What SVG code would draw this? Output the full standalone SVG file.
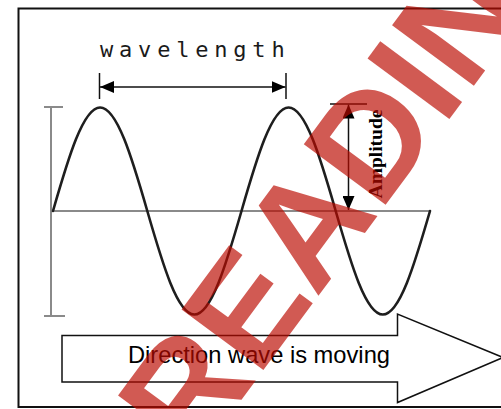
<svg xmlns="http://www.w3.org/2000/svg" width="501" height="409" viewBox="0 0 501 409">
  <style>
    .gray { stroke: #8a8a8a; stroke-width: 2; fill: none; }
    .blk { stroke: #111; stroke-width: 1.5; fill: none; }
    .wave { stroke: #1e1e1e; stroke-width: 2.6; fill: none; stroke-linecap: round; }
    .mono { font-family: "DejaVu Sans Mono", "Liberation Mono", monospace; font-size: 22px; fill: #1a1a1a; letter-spacing: 5.8px; }
    .sans { font-family: "Liberation Sans", Arial, sans-serif; font-size: 23.7px; fill: #000; }
    .serif { font-family: "Liberation Serif", "Times New Roman", serif; font-size: 19.5px; font-weight: bold; fill: #000; }
    .wm { font-family: "Liberation Sans", Arial, sans-serif; font-size: 148px; font-weight: bold; fill: #BB0A00; opacity: 0.67; }
  </style>
  <defs>
    <marker id="ah" viewBox="0 0 14 12" refX="14" refY="6" markerWidth="14" markerHeight="12" markerUnits="userSpaceOnUse" orient="auto-start-reverse">
      <path d="M0,0 L14,6 L0,12 Z" fill="#000"/>
    </marker>
  </defs>
  <rect width="501" height="409" fill="#fff"/>
  <rect id="frame" x="18.5" y="8.5" width="500" height="398.5" fill="none" stroke="#111" stroke-width="2"/>

  <g id="axes">
    <line class="gray" x1="53" y1="211" x2="430" y2="211"/>
    <line class="gray" x1="51" y1="107" x2="51" y2="316"/>
    <line class="gray" x1="44" y1="107" x2="63" y2="107"/>
    <line class="gray" x1="44" y1="316" x2="65" y2="316"/>
  </g>

  <g id="wave">
    <path class="wave" d="M53,211 C68.3,157.9 83.2,107.5 100.1,107.5 C117,107.5 132,157.9 147.3,211 C162.6,264.1 177.5,314.5 194.4,314.5 C211.3,314.5 226.2,264.1 241.5,211 C256.8,157.9 271.7,107.5 288.6,107.5 C305.5,107.5 320.4,157.9 335.7,211 C351,264.1 365.9,314.5 382.8,314.5 C399.7,314.5 414.6,264.1 430,211"/>
  </g>

  <g id="connectors">
    <g id="wavelength-arrow">
      <line class="blk" x1="99.5" y1="73" x2="99.5" y2="99"/>
      <line class="blk" x1="286" y1="73" x2="286" y2="99"/>
      <line class="blk" x1="100" y1="87" x2="285.5" y2="87" marker-start="url(#ah)" marker-end="url(#ah)"/>
    </g>
    <g id="amplitude-arrow">
      <line class="blk" x1="330" y1="104" x2="367" y2="104"/>
      <line class="blk" x1="348.5" y1="104.5" x2="348.5" y2="210" marker-start="url(#ah)" marker-end="url(#ah)"/>
    </g>
  </g>

  <g id="label-wavelength">
    <text class="mono" x="100" y="57">wavelength</text>
  </g>
  <g id="label-amplitude">
    <text class="serif" transform="translate(382,154) rotate(-90)" text-anchor="middle">Amplitude</text>
  </g>

  <g id="direction-arrow">
    <polygon points="62,335.5 397.5,335.5 397.5,314 503,357.5 397.5,402.5 397.5,382 62,382" fill="#fff" stroke="#111" stroke-width="1.5"/>
    <text class="sans" x="128" y="363">Direction wave is moving</text>
  </g>

  <g id="watermark">
    <text class="wm" transform="translate(194,464) rotate(-53.5)">READING</text>
  </g>
</svg>
